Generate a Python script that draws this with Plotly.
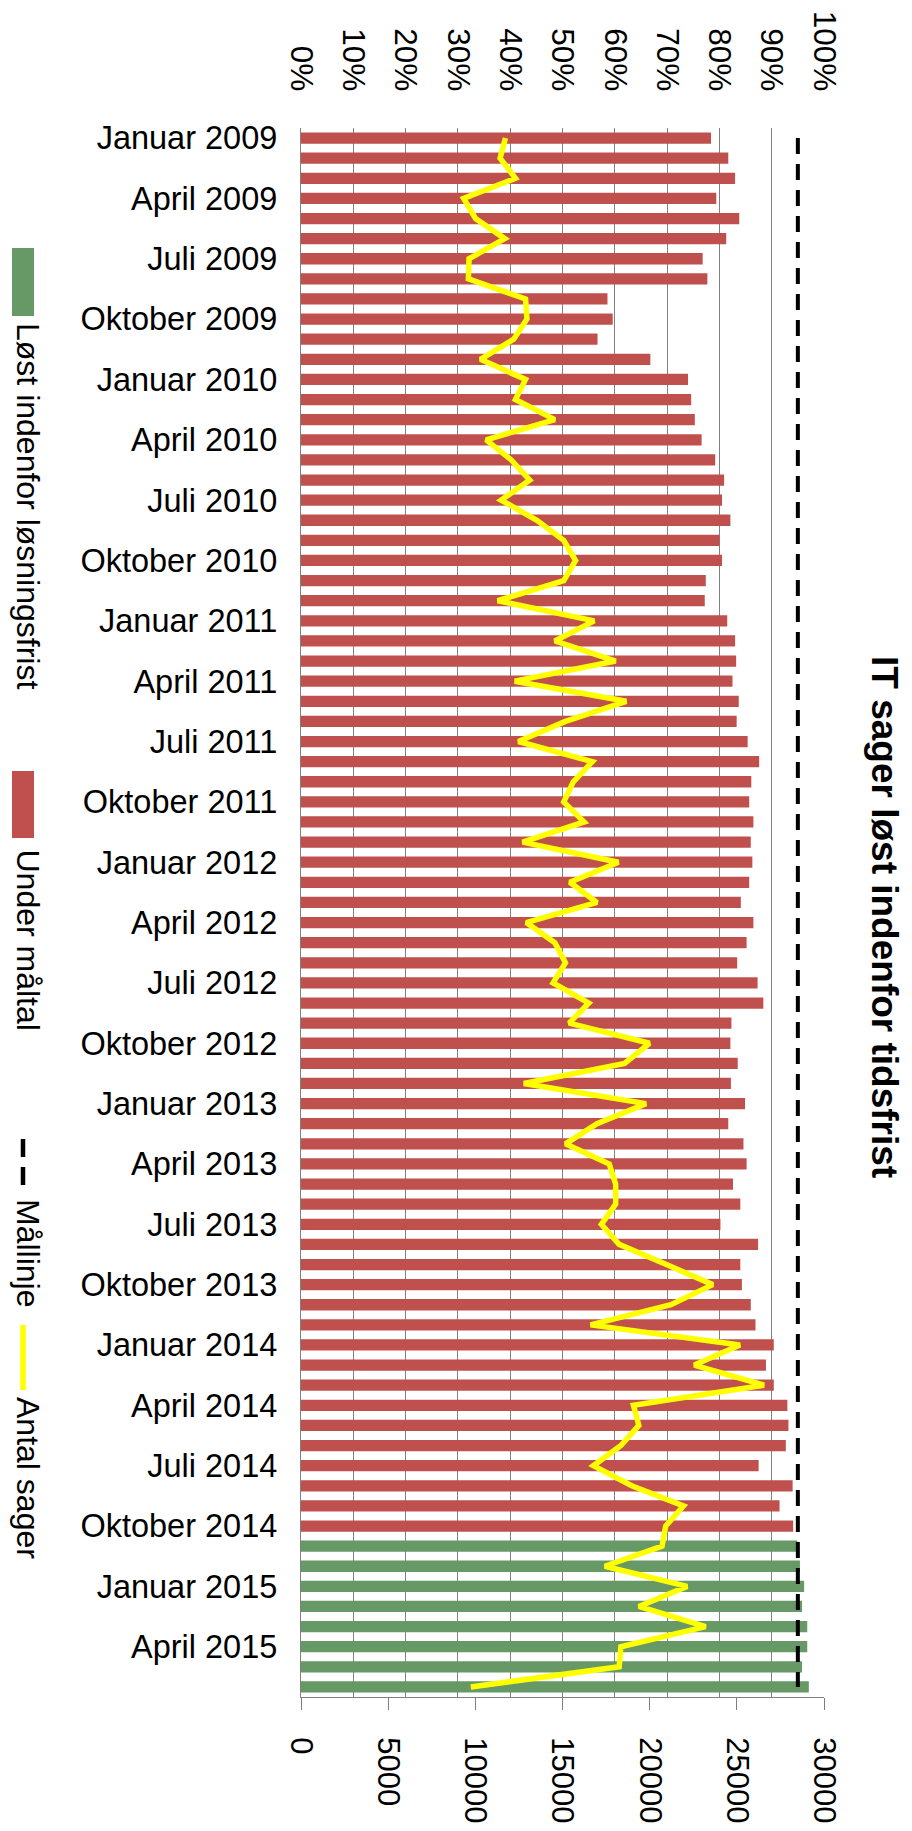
import plotly.graph_objects as go

# ---------------- data ----------------
maaneder = ["Januar", "Februar", "Marts", "April", "Maj", "Juni", "Juli",
            "August", "September", "Oktober", "November", "December"]
aar = [2009, 2010, 2011, 2012, 2013, 2014, 2015]
kategorier = [f"{m} {y}" for y in aar for m in maaneder][:78]

# share solved within deadline (fraction), months below target (red)
under_maaltal = [0.784, 0.817, 0.830, 0.794, 0.838, 0.813, 0.768, 0.777, 0.586, 0.596,
                 0.567, 0.668, 0.740, 0.746, 0.753, 0.766, 0.792, 0.809, 0.805, 0.821,
                 0.800, 0.805, 0.774, 0.772, 0.815, 0.830, 0.832, 0.825, 0.837, 0.833,
                 0.854, 0.876, 0.861, 0.857, 0.865, 0.860, 0.863, 0.857, 0.841, 0.865,
                 0.852, 0.834, 0.873, 0.884, 0.823, 0.821, 0.835, 0.822, 0.849, 0.817,
                 0.846, 0.852, 0.826, 0.840, 0.802, 0.874, 0.840, 0.843, 0.860, 0.869,
                 0.904, 0.889, 0.904, 0.930, 0.932, 0.927, 0.875, 0.940, 0.915, 0.941] + [None] * 8
# months solved within deadline (green)
loest = [None] * 70 + [0.949, 0.954, 0.962, 0.958, 0.968, 0.968, 0.958, 0.971]
# target line
maallinje = [0.95] * 78
# number of cases
antal_sager = [11730, 11420, 12300, 9330, 10010, 11690, 9640, 9600, 12880, 12960,
               12200, 10290, 12880, 12300, 14560, 10620, 12060, 13120, 11480, 13530,
               15070, 15750, 15070, 11280, 16820, 14560, 18050, 12260, 18660, 15170,
               12470, 16710, 15620, 15070, 16240, 12710, 18210, 15420, 16980, 12920,
               14560, 15170, 14460, 16510, 15380, 19990, 18560, 12780, 19790, 16980,
               15170, 17680, 18050, 18050, 17230, 18250, 20960, 23620, 21220, 16610,
               25180, 22560, 26560, 19070, 19380, 18350, 16770, 18970, 21940, 20920,
               20710, 17430, 22150, 19380, 23210, 18350, 18250, 9740]

pct_ticks = [i / 10 for i in range(11)]
pct_labels = [f"{i * 10}%" for i in range(11)]
antal_ticks = [0, 5000, 10000, 15000, 20000, 25000, 30000]
kat_ticks = kategorier[::3]

titel = "IT sager løst indenfor tidsfrist"
legend_navne = ["Løst indenfor løsningsfrist", "Under måltal", "Mållinje", "Antal sager"]

# ---------------- style ----------------
FONT = "Liberation Sans, Arial, sans-serif"
RED = "#C0504D"
GREEN = "#669966"
GRID = "#808080"
OFF = 8                      # default page (body) margin of the html page
W, H = 912 - 2 * OFF, 1831 - 2 * OFF
L, R, T, B = 301, 824, 128, 1697   # wanted plot-area edges in page pixels


def px(xp):
    return (xp - L) / (R - L)


def py(yp):
    return (B - yp) / (B - T)


fig = go.Figure()
fig.add_trace(go.Bar(y=kategorier, x=under_maaltal, orientation="h", name=legend_navne[1],
                     marker=dict(color=RED, line=dict(width=0)), width=0.56))
fig.add_trace(go.Bar(y=kategorier, x=loest, orientation="h", name=legend_navne[0],
                     marker=dict(color=GREEN, line=dict(width=0)), width=0.56))
fig.add_trace(go.Scatter(y=kategorier, x=maallinje, mode="lines", name=legend_navne[2],
                         line=dict(color="black", width=4, dash="16px,10px")))
fig.add_trace(go.Scatter(y=kategorier, x=antal_sager, xaxis="x2", mode="lines",
                         name=legend_navne[3], line=dict(color="#FFFF00", width=5.5)))

fig.update_layout(
    width=W, height=H, autosize=False,
    margin=dict(l=L - OFF, r=OFF + W - R, t=T - OFF, b=OFF + H - B, pad=0, autoexpand=False),
    plot_bgcolor="white", paper_bgcolor="white",
    showlegend=False, barmode="overlay",
    font=dict(family=FONT, color="black"),
    xaxis=dict(range=[0, 1], side="top", tickmode="array", tickvals=pct_ticks,
               ticktext=pct_labels, showgrid=True, gridcolor=GRID, gridwidth=1.3,
               zeroline=False, showline=False, ticks="", tickangle=90, automargin=False,
               tickfont=dict(size=31.5, family=FONT, color="black"),
               ticklabelstandoff=31),
    xaxis2=dict(overlaying="x", side="bottom", anchor="y", range=[0, 30000],
                tickmode="array", tickvals=antal_ticks, ticktext=[str(v) for v in antal_ticks],
                showgrid=False, zeroline=False, showline=True, linecolor=GRID, linewidth=1.3,
                ticks="outside", ticklen=12, tickcolor=GRID, tickwidth=1.3, tickangle=90,
                automargin=False,
                tickfont=dict(size=31, family=FONT, color="black"),
                ticklabelstandoff=21),
    yaxis=dict(type="category", range=[77.5, -0.5], tickmode="array",
               tickvals=kat_ticks, ticktext=kat_ticks, showline=True, linecolor=GRID,
               linewidth=1.3, showgrid=False, zeroline=False, ticks="", automargin=False,
               tickfont=dict(size=32.5, family=FONT, color="black"),
               ticklabelstandoff=16),
)

# title (rotated)
fig.add_annotation(text=f"<b>{titel}</b>", xref="paper", yref="paper",
                   x=px(885), y=py(917), xanchor="center", yanchor="middle",
                   showarrow=False, textangle=90,
                   font=dict(family=FONT, size=37, color="black"))

# manual rotated legend
shapes = [
    dict(type="rect", xref="paper", yref="paper", x0=px(12), x1=px(34), y0=py(248), y1=py(316),
         fillcolor=GREEN, line=dict(width=0), layer="above"),
    dict(type="rect", xref="paper", yref="paper", x0=px(12), x1=px(34), y0=py(771), y1=py(838),
         fillcolor=RED, line=dict(width=0), layer="above"),
    dict(type="line", xref="paper", yref="paper", x0=px(23), x1=px(23), y0=py(1139), y1=py(1191),
         line=dict(color="black", width=4.5, dash="18px,10px"), layer="above"),
    dict(type="line", xref="paper", yref="paper", x0=px(23), x1=px(23), y0=py(1325), y1=py(1390),
         line=dict(color="#FFFF00", width=5.5), layer="above"),
]
fig.update_layout(shapes=shapes)

legend_start = [321, 847, 1197, 1395]
for navn, ys in zip(legend_navne, legend_start):
    fig.add_annotation(text=navn, xref="paper", yref="paper", x=px(28), y=py(ys),
                       xanchor="center", yanchor="top", showarrow=False, textangle=90,
                       font=dict(family=FONT, size=32, color="black"))

fig.write_html("out.html")
